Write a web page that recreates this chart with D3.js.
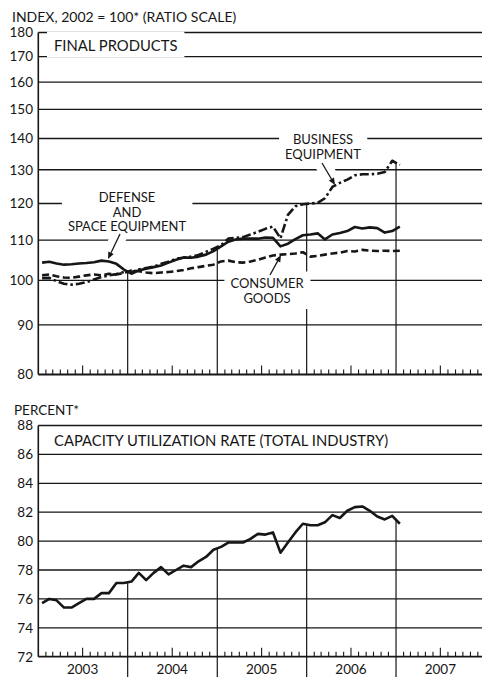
<!DOCTYPE html>
<html><head><meta charset="utf-8">
<script src="https://cdn.jsdelivr.net/npm/d3@7"></script>
<style>
body{margin:0;background:#fff}
svg{display:block}
text{font-family:"Lato","Noto Sans",sans-serif;fill:#161616}
</style>
</head><body>
<svg id="c" width="482" height="677"></svg>
<script>
// ---------------- DATA ----------------
// Monthly observations, Jan 2003 .. Jan 2007
const monthStarts = d3.timeMonth.range(new Date(2003,0,1), new Date(2007,1,1));

const businessEquipment = [
  100.5,100.6, 99.8, 99.2, 99.0, 99.2, 99.6,100.2,100.8,101.2,101.5,102.0,
  102.0,102.6,103.0,103.3,104.0,104.5,105.3,105.5,105.8,106.2,107.0,107.8,
  108.7,110.4,110.6,110.8,111.5,112.2,113.0,113.6,110.5,116.8,119.2,119.8,
  120.0,120.2,121.5,124.8,126.0,127.0,128.3,128.6,128.6,128.8,129.3,132.8,
  131.5];
const defenseSpace = [
  104.3,104.5,104.1,103.8,103.9,104.1,104.2,104.4,104.8,104.6,104.0,102.6,
  101.6,102.4,102.8,103.2,103.6,104.3,105.0,105.6,105.5,105.8,106.3,107.2,
  108.4,109.6,110.2,110.4,110.4,110.4,110.7,110.6,108.4,109.1,110.3,111.3,
  111.5,111.8,110.2,111.5,111.9,112.4,113.5,113.1,113.4,113.2,112.0,112.4,
  113.6];
const consumerGoods = [
  101.2,101.4,101.0,100.7,100.6,100.9,101.2,101.4,101.2,101.6,101.4,101.8,
  102.4,102.2,101.9,101.7,101.9,102.0,102.2,102.5,102.9,103.2,103.5,103.8,
  104.6,104.8,104.4,104.3,104.6,105.0,105.6,106.1,106.3,106.4,106.6,106.9,
  105.8,106.0,106.3,106.6,106.8,107.2,107.1,107.5,107.3,107.2,107.3,107.2,
  107.3];
const capacityUtilization = [
  75.7,76.0,75.9,75.4,75.4,75.7,76.0,76.0,76.4,76.4,77.1,77.1,
  77.2,77.8,77.3,77.8,78.2,77.7,78.0,78.3,78.2,78.6,78.9,79.4,
  79.6,79.9,79.9,79.9,80.15,80.5,80.45,80.6,79.2,79.9,80.6,81.2,
  81.1,81.1,81.3,81.8,81.6,82.1,82.35,82.4,82.1,81.7,81.5,81.75,
  81.2];

const topTicks = [80,90,100,110,120,130,140,150,160,170,180];
const bottomTicks = [72,74,76,78,80,82,84,86,88];
const years = ["2003","2004","2005","2006","2007"];
const yearBreaks = [2004,2005,2006,2007];

// ---------------- SETUP ----------------
const svg = d3.select("#c");
const L = 38.3, R = 482, BOTTOM = 677;
const x = d3.scaleTime().domain([new Date(2003,0,1), new Date(2008,0,1)]).range([38.3, 485.4]);
const yTop = d3.scaleLog().domain([80,180]).range([374.5, 32.5]);
const yBot = d3.scaleLinear().domain([72,88]).range([656.7, 425.5]);
const midMonth = m => new Date((+m + +d3.timeMonth.offset(m,1))/2);
const INK = "#161616";

const gGrid = svg.append("g");
const gVert = svg.append("g");
const gHalo = svg.append("g");
const gData = svg.append("g");
const gAxis = svg.append("g");
const gText = svg.append("g");

// horizontal grid lines
function grid(scale, ticks){
  gGrid.selectAll(null).data(ticks.slice(1)).enter().append("line")
    .attr("x1", L).attr("x2", R)
    .attr("y1", d => scale(d)).attr("y2", d => scale(d))
    .attr("stroke", INK).attr("stroke-width", 1.3);
}
grid(yTop, topTicks);
grid(yBot, bottomTicks);

// axes: left line, bottom line, tick labels, monthly ticks
function axisFrame(scale, ticks, fmt){
  const y0 = scale(ticks[0]), y1 = scale(ticks[ticks.length-1]);
  gAxis.append("line").attr("x1", L).attr("x2", L).attr("y1", y1).attr("y2", y0)
    .attr("stroke", INK).attr("stroke-width", 1.6);
  gAxis.append("line").attr("x1", L).attr("x2", R).attr("y1", y0).attr("y2", y0)
    .attr("stroke", INK).attr("stroke-width", 1.8);
  gText.selectAll(null).data(ticks).enter().append("text")
    .attr("x", 33).attr("y", d => scale(d)).attr("dy", "0.36em")
    .attr("text-anchor", "end").attr("font-size", 13.5)
    .text(fmt);
  const mt = d3.timeMonth.range(new Date(2003,0,1), new Date(2008,0,1))
    .filter(d => d.getMonth() !== 0);
  gAxis.selectAll(null).data(mt).enter().append("line")
    .attr("x1", d => x(d)).attr("x2", d => x(d))
    .attr("y1", y0).attr("y2", d => y0 - (d.getMonth() === 6 ? 9 : 5))
    .attr("stroke", INK).attr("stroke-width", 1.1);
}
axisFrame(yTop, topTicks, d => d);
axisFrame(yBot, bottomTicks, d => d);

// year separators
const valAt = (arr, yr) => { const i = (yr-2003)*12; return (arr[i-1] + arr[i]) / 2; };
yearBreaks.forEach(yr => {
  const xv = x(new Date(yr,0,1));
  const topV = Math.max(valAt(businessEquipment,yr), valAt(defenseSpace,yr), valAt(consumerGoods,yr));
  gVert.append("line").attr("x1", xv).attr("x2", xv)
    .attr("y1", yTop(topV)).attr("y2", yTop(80))
    .attr("stroke", INK).attr("stroke-width", 1.2);
  gVert.append("line").attr("x1", xv).attr("x2", xv)
    .attr("y1", yBot(valAt(capacityUtilization,yr))).attr("y2", BOTTOM)
    .attr("stroke", INK).attr("stroke-width", 1.2);
});

// year labels
gText.selectAll(null).data(years).enter().append("text")
  .attr("x", (d) => x(new Date(+d,6,1)))
  .attr("y", 673.5).attr("text-anchor", "middle").attr("font-size", 13.5)
  .text(d => d);

// data lines
function series(arr, scale, dash){
  const line = d3.line().x((d,i) => x(midMonth(monthStarts[i]))).y(d => scale(d));
  gData.append("path").attr("d", line(arr))
    .attr("fill", "none").attr("stroke", INK).attr("stroke-width", 2.6)
    .attr("stroke-linejoin", "round")
    .attr("stroke-dasharray", dash);
}
series(consumerGoods, yTop, "7,3.5");
series(businessEquipment, yTop, "9,3,2.5,3");
series(defenseSpace, yTop, null);
series(capacityUtilization, yBot, null);

// titles
function label(lines, cx, cy, opts){
  const o = Object.assign({anchor:"middle", size:13, lh:14.5, padX:6, padY:3, bg:true}, opts);
  const t = gText.append("text").attr("font-size", o.size).attr("text-anchor", o.anchor);
  lines.forEach((s,i) => t.append("tspan").attr("x", cx).attr("y", cy + i*o.lh).text(s));
  if (o.bg){
    const b = t.node().getBBox();
    gHalo.append("rect").attr("x", b.x - o.padX).attr("y", b.y - o.padY)
      .attr("width", b.width + 2*o.padX).attr("height", b.height + 2*o.padY)
      .attr("fill", "#fff");
  }
}
function arrow(x1,y1,x2,y2){
  const a = Math.atan2(y2-y1, x2-x1), len = 7, hw = 3;
  const bx = x2 - len*Math.cos(a), by = y2 - len*Math.sin(a);
  gHalo.append("line").attr("x1", x1).attr("y1", y1).attr("x2", bx).attr("y2", by)
    .attr("stroke", "#fff").attr("stroke-width", 16);
  gText.append("line").attr("x1", x1).attr("y1", y1).attr("x2", bx).attr("y2", by)
    .attr("stroke", INK).attr("stroke-width", 1.3);
  gText.append("path").attr("d", `M${x2},${y2}L${bx + hw*Math.sin(a)},${by - hw*Math.cos(a)}L${bx - hw*Math.sin(a)},${by + hw*Math.cos(a)}Z`)
    .attr("fill", INK);
}

label(["INDEX, 2002 = 100* (RATIO SCALE)"], 12, 21.5, {anchor:"start", size:14, bg:false});
label(["FINAL PRODUCTS"], 54, 50.5, {anchor:"start", size:14.8, padX:7, padY:4});
label(["DEFENSE","AND","SPACE EQUIPMENT"], 127, 202, {size:13});
label(["BUSINESS","EQUIPMENT"], 323, 143.5, {size:13, lh:15.5});
label(["CONSUMER","GOODS"], 267, 287.5, {size:13, lh:15.5});
label(["PERCENT*"], 14, 415, {anchor:"start", size:13.5, bg:false});
label(["CAPACITY UTILIZATION RATE (TOTAL INDUSTRY)"], 54, 446, {anchor:"start", size:14.8, bg:false});

arrow(120, 234, 108, 259);
arrow(322, 163, 335, 185);
arrow(270, 275, 281, 255);
</script>
</body></html>
